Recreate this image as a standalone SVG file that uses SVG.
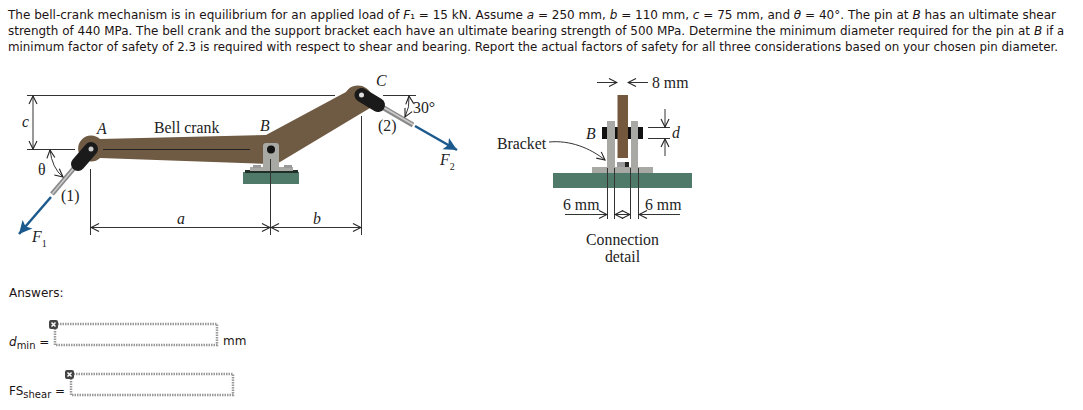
<svg xmlns="http://www.w3.org/2000/svg" width="1083" height="410" viewBox="0 0 1083 410">
<style>
.v{font-family:"DejaVu Sans",Verdana,sans-serif;font-size:12px;fill:#1c1414}
.s{font-family:"Liberation Serif","Times New Roman",serif;font-size:15.8px;fill:#222}
.i{font-style:italic}
.d{stroke:#333;stroke-width:1;fill:none}
.f{fill:none;stroke:#999;stroke-width:2.500;stroke-dasharray:1.500 1}
.sub{font-size:10px;font-style:normal}
.st{fill:#a8a8a4}
</style>
<defs>
<marker id="a" markerWidth="10" markerHeight="10" refX="9" refY="5" orient="auto-start-reverse" markerUnits="userSpaceOnUse"><path d="M1 1L9 5L1 9" fill="none" stroke="#222" stroke-width="1.100"/></marker>
<marker id="b" markerWidth="15" markerHeight="14" refX="13" refY="7" orient="auto" markerUnits="userSpaceOnUse"><path d="M0 0.500L13 7L0 13.500L3 7Z" fill="#1c5a8e"/></marker>
</defs>
<g id="problem">
<text class="v" x="8" y="19" textLength="1048" lengthAdjust="spacingAndGlyphs">The bell-crank mechanism is in equilibrium for an applied load of <tspan class="i">F</tspan>₁ = 15 kN. Assume <tspan class="i">a</tspan> = 250 mm, <tspan class="i">b</tspan> = 110 mm, <tspan class="i">c</tspan> = 75 mm, and <tspan class="i">θ</tspan> = 40°. The pin at <tspan class="i">B</tspan> has an ultimate shear</text>
<text class="v" x="8" y="35" textLength="1022" lengthAdjust="spacingAndGlyphs">strength of 440 MPa. The bell crank and the support bracket each have an ultimate bearing strength of 500 MPa. Determine the minimum diameter required for the pin at</text>
<text class="v i" x="1034" y="35">B</text>
<text class="v" x="1046" y="35" textLength="18" lengthAdjust="spacingAndGlyphs">if a</text>
<text class="v" x="8" y="51" textLength="1050" lengthAdjust="spacingAndGlyphs">minimum factor of safety of 2.3 is required with respect to shear and bearing. Report the actual factors of safety for all three considerations based on your chosen pin diameter.</text>
</g>
<g id="crank">
<path d="M100 139L266 135L346 92A14 14 0 1 1 370 108L280 162Q276 164 270 164L100 158A13 13 0 1 1 100 139Z" fill="#6f5a43"/>
<path d="M103 149.500L250 149.500" stroke="#222" stroke-width="1"/>
</g>
<g id="bracket-b">
<rect x="243" y="172" width="56" height="12" fill="#4f7a6a"/>
<rect x="245" y="170" width="53" height="3" fill="#1f2f28"/>
<rect x="250" y="167" width="43" height="4" class="st"/>
<rect x="253" y="165" width="8" height="3" fill="#999"/>
<rect x="284" y="165" width="8" height="3" fill="#999"/>
<path d="M263 146Q263 143 266 143H276Q279 143 279 146V170H263Z" class="st"/>
<circle cx="271" cy="149.500" r="4" fill="#111"/>
</g>
<g id="link-1">
<path d="M75 167L52 194" stroke="#8a8a8a" stroke-width="5"/>
<path d="M74.500 167.500L52.500 193.500" stroke="#ccc" stroke-width="1.500"/>
<path d="M91 149L78 164" stroke="#1a1a1a" stroke-width="14" stroke-linecap="round"/>
<circle cx="91" cy="149" r="2.500" fill="#ccc"/>
</g>
<g id="link-2">
<path d="M382 107L413 125" stroke="#8a8a8a" stroke-width="5"/>
<path d="M382 106.500L413 124.500" stroke="#ccc" stroke-width="1.500"/>
<path d="M361.500 95L378 105" stroke="#1a1a1a" stroke-width="14" stroke-linecap="round"/>
<circle cx="361.500" cy="95" r="2.500" fill="#ddd"/>
</g>
<g id="connectors">
<path d="M51 197L19 234" stroke="#1c5a8e" stroke-width="2.500" marker-end="url(#b)" fill="none"/>
<path d="M415 126L457 150" stroke="#1c5a8e" stroke-width="2.500" marker-end="url(#b)" fill="none"/>
<path class="d" d="M27 95.500H335M383 95.500H416M27 149.500H75"/>
<path class="d" d="M33 96V149" marker-start="url(#a)" marker-end="url(#a)"/>
<path class="d" d="M50 150Q52 168 63 177" marker-start="url(#a)" marker-end="url(#a)"/>
<path class="d" d="M409 96Q410 107 405 117" marker-start="url(#a)" marker-end="url(#a)"/>
<path class="d" d="M90.500 169V235M270.500 159V235M361.500 116V235"/>
<path class="d" d="M91 227.500H270" marker-start="url(#a)" marker-end="url(#a)"/>
<path class="d" d="M271 227.500H361" marker-start="url(#a)" marker-end="url(#a)"/>
</g>
<g id="connection-detail">
<rect x="553" y="173" width="139" height="15" fill="#4f7a6a"/>
<rect x="592" y="167" width="61" height="6" class="st"/>
<rect x="607" y="121" width="8" height="46" class="st"/>
<rect x="631" y="121" width="7" height="46" class="st"/>
<rect x="602" y="127" width="41" height="12" fill="#111"/>
<rect x="607" y="127" width="8" height="12" class="st"/>
<rect x="631" y="127" width="7" height="12" class="st"/>
<rect x="617.500" y="95" width="10.500" height="63" fill="#74583d"/>
<rect x="617" y="162" width="12" height="5" fill="#999"/>
<rect x="625" y="162" width="4" height="5" fill="#222"/>
</g>
<g id="detail-dims">
<path class="d" d="M597 82.500H617" marker-end="url(#a)"/>
<path class="d" d="M648 82.500H628" marker-end="url(#a)"/>
<path class="d" d="M648 127.500H670M648 138.500H670"/>
<path class="d" d="M665 109V127" marker-end="url(#a)"/>
<path class="d" d="M665 156V139" marker-end="url(#a)"/>
<path class="d" d="M549 142C570 140 590 148 605 160" marker-end="url(#a)"/>
<path class="d" d="M607.500 168V219M614.500 168V219M630.500 168V219M638.500 168V219"/>
<path class="d" d="M565 214.500H607" marker-end="url(#a)"/>
<path class="d" d="M680 214.500H639" marker-end="url(#a)"/>
<path class="d" d="M615 214.500H630" marker-start="url(#a)" marker-end="url(#a)"/>
</g>
<g id="labels">
<text class="s" x="154" y="133">Bell crank</text>
<text class="s i" x="97" y="134">A</text>
<text class="s i" x="260" y="131">B</text>
<text class="s i" x="376" y="86">C</text>
<text class="s i" x="22" y="127">c</text>
<text class="s" x="38" y="175">θ</text>
<text class="s" x="61" y="201">(1)</text>
<text class="s" x="378" y="131">(2)</text>
<text class="s" x="413" y="113">30°</text>
<text class="s i" x="32" y="242" font-size="17">F<tspan class="sub" dy="5">1</tspan></text>
<text class="s i" x="440" y="165" font-size="17">F<tspan class="sub" dy="5">2</tspan></text>
<text class="s i" x="177" y="224">a</text>
<text class="s i" x="313" y="224">b</text>
<text class="s" x="652" y="88">8 mm</text>
<text class="s i" x="586" y="139">B</text>
<text class="s i" x="672" y="138">d</text>
<text class="s" x="497" y="149">Bracket</text>
<text class="s" x="563" y="210">6 mm</text>
<text class="s" x="645" y="210">6 mm</text>
<text class="s" x="622.500" y="245" text-anchor="middle">Connection</text>
<text class="s" x="622.500" y="262" text-anchor="middle">detail</text>
</g>
<g id="answers">
<text class="v" x="9" y="297">Answers:</text>
<text class="v" x="9" y="346"><tspan font-style="italic">d</tspan><tspan class="sub" dy="3">min</tspan><tspan dy="-3"> =</tspan></text>
<rect class="f" x="55" y="324" width="162" height="21"/>
<rect x="49" y="320" width="9" height="9" rx="2" fill="#444"/>
<path d="M51.500 322.500l4 4m0-4l-4 4" stroke="#fff" stroke-width="1.500"/>
<text class="v" x="223" y="345">mm</text>
<text class="v" x="9" y="395">FS<tspan class="sub" dy="3">shear</tspan><tspan dy="-3"> =</tspan></text>
<rect class="f" x="71" y="374" width="162" height="21"/>
<rect x="65" y="370" width="9" height="9" rx="2" fill="#444"/>
<path d="M67.500 372.500l4 4m0-4l-4 4" stroke="#fff" stroke-width="1.500"/>
</g>
</svg>
